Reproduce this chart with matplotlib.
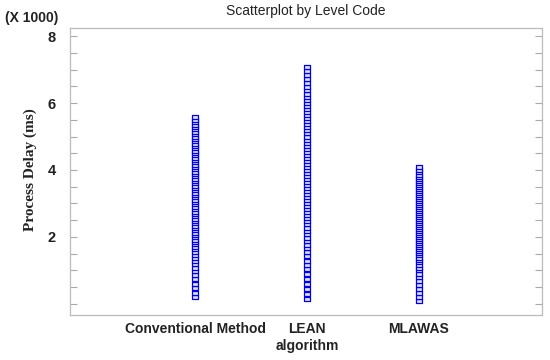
import matplotlib
matplotlib.use("Agg")
import matplotlib.pyplot as plt
from matplotlib.ticker import MultipleLocator, FixedLocator

categories = ["Conventional Method", "LEAN\nalgorithm", "MLAWAS"]

# Process delay values (x 1000 ms)
conventional = [0.20, 0.34, 0.48, 0.60, 0.74, 0.86, 0.98, 1.08, 1.18, 1.28, 1.38, 1.46,
                1.55, 1.63, 1.70, 1.78, 1.85, 1.92, 1.99, 2.06, 2.13, 2.20, 2.27, 2.34,
                2.41, 2.48, 2.55, 2.62, 2.69, 2.76, 2.83, 2.90, 2.97, 3.04, 3.11, 3.18,
                3.25, 3.32, 3.39, 3.46, 3.53, 3.60, 3.67, 3.74, 3.81, 3.88, 3.95, 4.02,
                4.09, 4.16, 4.23, 4.30, 4.37, 4.44, 4.51, 4.58, 4.65, 4.72, 4.79, 4.86,
                4.93, 5.00, 5.07, 5.14, 5.21, 5.28, 5.35, 5.42, 5.50, 5.57]
lean = [0.15, 0.30, 0.45, 0.60, 0.75, 0.90, 1.03, 1.16, 1.29, 1.42, 1.55, 1.66,
        1.77, 1.88, 1.98, 2.08, 2.18, 2.28, 2.38, 2.48, 2.57, 2.66, 2.75, 2.84,
        2.93, 3.02, 3.11, 3.20, 3.29, 3.38, 3.47, 3.56, 3.65, 3.74, 3.83, 3.92,
        4.01, 4.10, 4.19, 4.28, 4.37, 4.46, 4.55, 4.64, 4.73, 4.82, 4.91, 5.00,
        5.09, 5.18, 5.27, 5.36, 5.45, 5.54, 5.63, 5.72, 5.81, 5.90, 5.99, 6.08,
        6.18, 6.28, 6.38, 6.48, 6.60, 6.72, 6.85, 6.96, 7.07]
mlawas = [0.10, 0.22, 0.34, 0.46, 0.58, 0.69, 0.80, 0.90, 1.00, 1.08, 1.16, 1.24,
          1.31, 1.38, 1.45, 1.52, 1.58, 1.64, 1.70, 1.76, 1.82, 1.88, 1.94, 2.00,
          2.06, 2.12, 2.18, 2.24, 2.30, 2.36, 2.42, 2.48, 2.54, 2.60, 2.66, 2.72,
          2.78, 2.84, 2.90, 2.96, 3.02, 3.08, 3.14, 3.20, 3.26, 3.32, 3.38, 3.44,
          3.50, 3.56, 3.62, 3.68, 3.74, 3.80, 3.86, 3.93, 4.00, 4.08]

series = [conventional, lean, mlawas]

fig = plt.figure(figsize=(5.5, 3.6), dpi=100)
ax = fig.add_axes([70/550, 1 - 315/360, (542-70)/550, (315-28)/360])

rect = [(-1, -0.55), (1, -0.55), (1, 0.55), (-1, 0.55), (-1, -0.55)]
for i, vals in enumerate(series):
    ax.plot([i + 1] * len(vals), vals, linestyle="none", marker=rect,
            markersize=4.2, markerfacecolor="#dde0ff", markeredgecolor="#0000ee",
            markeredgewidth=0.9)

ax.set_xlim(-0.12, 4.10)
ax.set_ylim(-0.33, 8.24)
ax.set_xticks([1, 2, 3])
ax.set_xticklabels(categories, fontfamily="Liberation Sans", fontweight="bold",
                   fontsize=10, color="#222222", va="top", linespacing=1.25)
ax.tick_params(axis="x", length=0, pad=5)
ax.yaxis.set_major_locator(FixedLocator([2, 4, 6, 8]))
ax.yaxis.set_minor_locator(MultipleLocator(0.5))
ax.tick_params(axis="y", which="both", direction="in", length=5, color="#aaaaaa",
               right=True, width=0.8)
ax.tick_params(axis="y", which="major", pad=10)
for lab in ax.get_yticklabels():
    lab.set_fontfamily("Liberation Sans")
    lab.set_fontweight("bold")
    lab.set_fontsize(10.5)
    lab.set_color("#222222")
for s in ax.spines.values():
    s.set_color("#bbbbbb")
    s.set_linewidth(0.9)

fig.text(306/550, 1 - 11/360, "Scatterplot by Level Code", ha="center", va="center",
         fontfamily="Liberation Sans", fontsize=10, color="#222222")
fig.text(5/550, 1 - 18/360, "(X 1000)", ha="left", va="center",
         fontfamily="Liberation Sans", fontweight="bold", fontsize=10, color="#222222")
fig.text(30/550, 1 - 170/360, "Process Delay (ms)", rotation=90, ha="center", va="center",
         fontfamily="Liberation Serif", fontweight="bold", fontsize=11, color="#222222")

fig.savefig("out.png", dpi=100)
